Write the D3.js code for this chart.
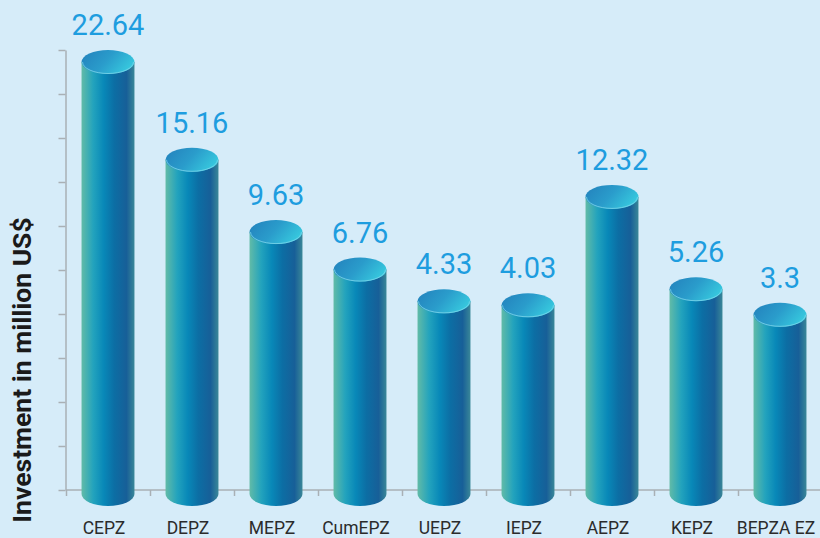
<!DOCTYPE html>
<html>
<head>
<meta charset="utf-8">
<script src="https://cdn.jsdelivr.net/npm/d3@7"></script>
<style>
  html, body { margin: 0; padding: 0; background: #d6ecf9; }
  svg { display: block; }
</style>
</head>
<body>
<div id="chart"></div>
<script>
let w = 820;
let h = 538;

// data
const zones = ['CEPZ', 'DEPZ', 'MEPZ', 'CumEPZ', 'UEPZ', 'IEPZ', 'AEPZ', 'KEPZ', 'BEPZA EZ'];
const investment = [22.64, 15.16, 9.63, 6.76, 4.33, 4.03, 12.32, 5.26, 3.3];
const yTitle = 'Investment in million US$';

let svg = d3.select('#chart').
append('svg').
attr('width', w).
attr('height', h);

let margin = {left: 66, right: -2, top: 50, bottom: 48};
let base = h - margin.bottom;

let x = d3.scaleBand().
domain(zones).
range([margin.left, w - margin.right]);

// value axis does not start at zero in the original
let y = d3.scaleLinear().
domain([-10.1, 23.56]).
range([base, margin.top]);

let defs = svg.append('defs');

let sideGrad = defs.append('linearGradient').
attr('id', 'side').
attr('x1', 0).attr('x2', 1).attr('y1', 0).attr('y2', 0);
[['0%', '#62bba7'], ['22%', '#23a3bd'], ['42%', '#0888b8'], ['62%', '#0c6ea4'], ['85%', '#175f98'], ['100%', '#3a8798']].
forEach(s => sideGrad.append('stop').attr('offset', s[0]).attr('stop-color', s[1]));

let topGrad = defs.append('linearGradient').
attr('id', 'topcap').
attr('x1', 0).attr('x2', 1).attr('y1', 0.3).attr('y2', 0.7);
[['0%', '#2486bf'], ['45%', '#2a9ccb'], ['100%', '#38cde0']].
forEach(s => topGrad.append('stop').attr('offset', s[0]).attr('stop-color', s[1]));

// axes
let yTicks = d3.range(11).map(i => y.domain()[0] + i * (y.domain()[1] - y.domain()[0]) / 10);
svg.append('g').
attr('transform', 'translate(' + (margin.left - 0.5) + ',0)').
call(d3.axisLeft(y).tickValues(yTicks).tickSize(7).tickSizeOuter(0).tickFormat('')).
call(g => g.selectAll('line,path').attr('stroke', '#a9b0b5').attr('stroke-width', 1.5));

svg.append('g').
attr('transform', 'translate(0,' + base + ')').
call(d3.axisBottom(x).tickSize(0).tickFormat('')).
call(g => g.select('.domain').attr('d', 'M' + margin.left + ',0H' + w)).
call(g => g.selectAll('line,path').attr('stroke', '#a9b0b5').attr('stroke-width', 1.5));

svg.append('g').
selectAll('line').
data(zones).
join('line').
attr('x1', d => x(d) + 0.5).
attr('x2', d => x(d) + 0.5).
attr('y1', base).
attr('y2', base + 6).
attr('stroke', '#a9b0b5').
attr('stroke-width', 1.5);

// cylinders
let bw = x.bandwidth() * 0.63;
let rx = bw / 2;
let ry = 12;
let bottomY = base + 4;

let bars = svg.selectAll('g.bar').
data(zones.map((d, i) => ({name: d, value: investment[i]}))).
join('g').
attr('class', 'bar');

bars.append('path').
attr('fill', 'url(#side)').
attr('d', d => {
  let cx = x(d.name) + x.bandwidth() / 2;
  return 'M' + (cx - rx) + ',' + y(d.value) +
  'V' + bottomY +
  'A' + rx + ',' + ry + ' 0 0 0 ' + (cx + rx) + ',' + bottomY +
  'V' + y(d.value) + 'Z';
});

bars.append('ellipse').
attr('cx', d => x(d.name) + x.bandwidth() / 2).
attr('cy', d => y(d.value)).
attr('rx', rx).
attr('ry', ry).
attr('fill', 'url(#topcap)');

bars.append('path').
attr('fill', 'none').
attr('stroke', '#7dd6ea').
attr('stroke-width', 1).
attr('opacity', 0.8).
attr('d', d => {
  let cx = x(d.name) + x.bandwidth() / 2;
  return 'M' + (cx - rx + 1) + ',' + y(d.value) +
  'A' + (rx - 1) + ',' + (ry - 0.5) + ' 0 0 0 ' + (cx + rx - 1) + ',' + y(d.value);
});

bars.append('text').
attr('x', d => x(d.name) + x.bandwidth() / 2).
attr('y', d => y(d.value) - 27).
attr('text-anchor', 'middle').
style('font-family', 'Roboto').
style('font-size', '29px').
style('fill', '#1e9ddf').
text(d => d.value);

// category labels
svg.append('g').
selectAll('text').
data(zones).
join('text').
attr('x', d => x(d) + x.bandwidth() / 2 - 4).
attr('y', 534).
attr('text-anchor', 'middle').
style('font-family', 'Roboto').
style('font-size', '17.5px').
style('fill', '#2b2b2b').
text(d => d);

svg.append('text').
attr('transform', 'translate(31,370) rotate(-90)').
attr('text-anchor', 'middle').
style('font-family', 'Roboto').
style('font-weight', 'bold').
style('font-size', '26.5px').
style('fill', '#1a1a1a').
text(yTitle);
</script>
</body>
</html>
